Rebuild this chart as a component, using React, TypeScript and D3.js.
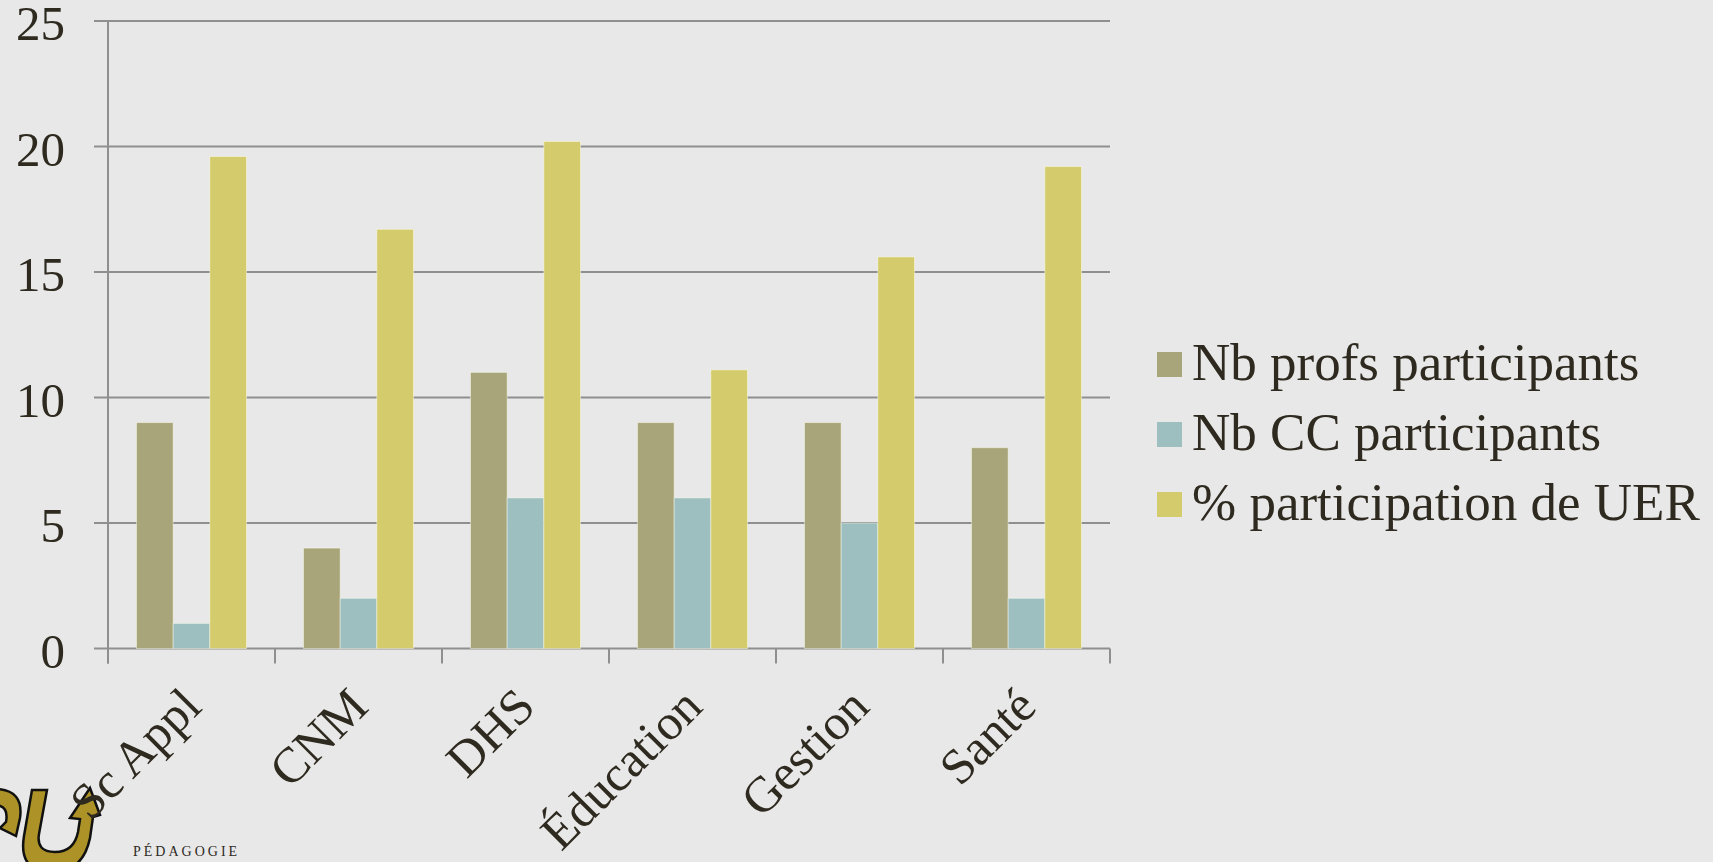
import { useEffect, useRef } from 'react'
import * as d3 from 'd3'

const categories = ['Sc Appl', 'CNM', 'DHS', 'Éducation', 'Gestion', 'Santé']
const seriesNames = ['Nb profs participants', 'Nb CC participants', '% participation de UER']
const profs = [9, 4, 11, 9, 9, 8]
const ccs = [1, 2, 6, 6, 5, 2]
const pctUer = [19.6, 16.7, 20.2, 11.1, 15.6, 19.2]
const yTicks = [0, 5, 10, 15, 20, 25]
const colors = ['#a8a57b', '#9dbfbf', '#d3cb6c']

const W = 1713
const H = 862
const left = 108
const right = 1110
const top = 21
const bottom = 648.5
const FONT = '"Liberation Serif", "Times New Roman", serif'
const INK = '#2e2a1f'
const GRID = '#8f8f8f'

function App() {
  const ref = useRef<SVGSVGElement>(null)

  useEffect(() => {
    const svg = d3.select(ref.current)
    svg.selectAll('*').remove()

    svg.append('rect').attr('width', W).attr('height', H).attr('fill', '#e8e8e8')

    const x0 = d3.scaleBand().domain(categories).range([left, right]).padding(0)
    const pad = 28.5
    const x1 = d3
      .scaleBand()
      .domain(seriesNames)
      .range([pad, x0.bandwidth() - pad])
      .padding(0)
    const y = d3.scaleLinear().domain([0, 25]).range([bottom, top])

    // logo (bottom left), partly off the page like the reference
    const logo = svg.append('g').attr('fill', '#ad9327').attr('stroke', '#111').attr('stroke-width', 2.5)
    logo
      .append('path')
      .attr(
        'd',
        'M 32 790 L 47 790 L 39 834 Q 36 852 55 852 Q 74 852 78 832 L 80 819 L 70 818 L 90 788 L 100 815 L 93 817 L 90 838 Q 83 872 52 872 Q 18 872 24 836 Z'
      )
    logo
      .append('path')
      .attr('d', 'M -4 789 Q 24 790 20 818 L 16 836 L 0 828 L 6 822 Q 9 806 -4 805 Z')
    svg
      .append('text')
      .attr('x', 133)
      .attr('y', 856)
      .attr('font-family', FONT)
      .attr('font-size', 14)
      .attr('letter-spacing', 3)
      .attr('fill', INK)
      .text('PÉDAGOGIE')

    // grid
    svg
      .append('g')
      .selectAll('line')
      .data(yTicks)
      .join('line')
      .attr('x1', left - 14)
      .attr('x2', right)
      .attr('y1', (d) => y(d))
      .attr('y2', (d) => y(d))
      .attr('stroke', GRID)
      .attr('stroke-width', 2)

    // y axis line
    svg
      .append('line')
      .attr('x1', left)
      .attr('x2', left)
      .attr('y1', top)
      .attr('y2', bottom + 15)
      .attr('stroke', GRID)
      .attr('stroke-width', 2)

    // x ticks at category boundaries
    const bounds = categories.map((c) => x0(c) as number).concat([right])
    svg
      .append('g')
      .selectAll('line')
      .data(bounds)
      .join('line')
      .attr('x1', (d) => d)
      .attr('x2', (d) => d)
      .attr('y1', bottom)
      .attr('y2', bottom + 15)
      .attr('stroke', GRID)
      .attr('stroke-width', 2)

    // bars
    const series = [profs, ccs, pctUer]
    const g = svg
      .append('g')
      .selectAll('g')
      .data(categories)
      .join('g')
      .attr('transform', (c) => `translate(${x0(c)},0)`)
    g.selectAll('rect')
      .data((c) => seriesNames.map((s, k) => ({ s, v: series[k][categories.indexOf(c)], k })))
      .join('rect')
      .attr('x', (d) => x1(d.s) as number)
      .attr('width', x1.bandwidth())
      .attr('y', (d) => y(d.v))
      .attr('height', (d) => bottom - y(d.v))
      .attr('fill', (d) => colors[d.k])
      .attr('stroke', 'rgba(255,255,240,0.45)')
      .attr('stroke-width', 1)

    // y labels
    svg
      .append('g')
      .selectAll('text')
      .data(yTicks)
      .join('text')
      .attr('x', 65)
      .attr('y', (d) => y(d) + 19)
      .attr('text-anchor', 'end')
      .attr('font-family', FONT)
      .attr('font-size', 49)
      .attr('fill', INK)
      .text((d) => d)

    // x labels
    svg
      .append('g')
      .selectAll('text')
      .data(categories)
      .join('text')
      .attr('transform', (c) => `translate(${(x0(c) as number) + x0.bandwidth() / 2 + 12},${709}) rotate(-45)`)
      .attr('text-anchor', 'end')
      .attr('font-family', FONT)
      .attr('font-size', 50)
      .attr('fill', INK)
      .text((c) => c)

    // legend
    const leg = svg
      .append('g')
      .selectAll('g')
      .data(seriesNames)
      .join('g')
      .attr('transform', (_, i) => `translate(1157,${352 + i * 70})`)
    leg.append('rect').attr('width', 25).attr('height', 25).attr('fill', (_, i) => colors[i])
    leg
      .append('text')
      .attr('x', 35)
      .attr('y', 28)
      .attr('font-family', FONT)
      .attr('font-size', 53)
      .attr('fill', INK)
      .text((d) => d)
  }, [])

  return (
    <svg
      ref={ref}
      width={W}
      height={H}
      style={{ position: 'fixed', left: 0, top: 0, display: 'block' }}
    />
  )
}

export default App
